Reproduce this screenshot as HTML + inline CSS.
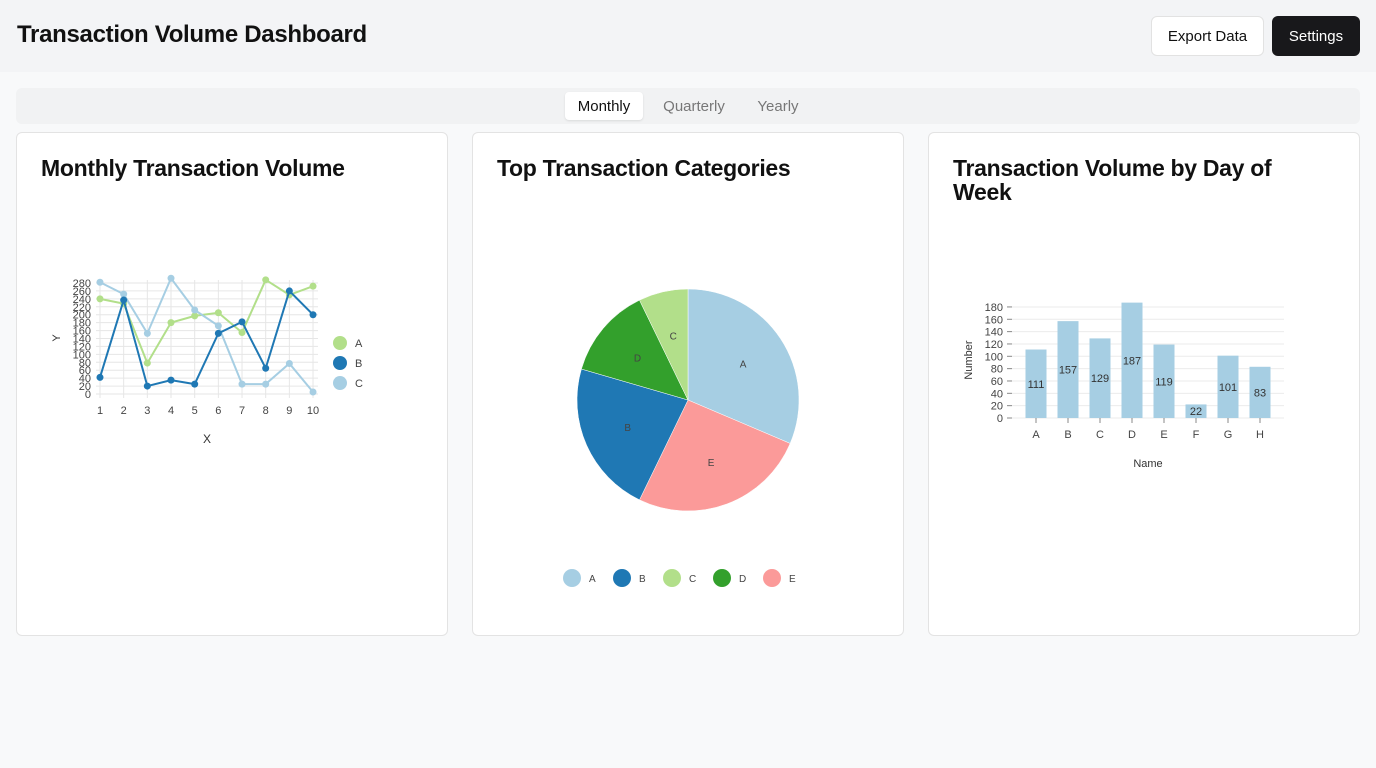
<!DOCTYPE html>
<html><head><meta charset="utf-8"><style>
*{box-sizing:border-box;margin:0;padding:0}
body{width:1376px;height:768px;background:#f8f9fa;font-family:"Liberation Sans",sans-serif;position:relative;overflow:hidden;color:#111}
.hdr{position:absolute;left:0;top:0;width:1376px;height:72px;background:#f3f4f6}
.hdr h1{position:absolute;left:17px;top:21px;font-size:24px;font-weight:bold;letter-spacing:-0.3px}
.btn{position:absolute;top:16px;height:40px;border-radius:6px;font-size:15px;display:flex;align-items:center;justify-content:center}
.tabs{position:absolute;left:16px;top:88px;width:1344px;height:36px;background:#f1f2f3;border-radius:6px}
.tab{position:absolute;top:4px;height:28px;font-size:15px;display:flex;align-items:center;justify-content:center;color:#777;border-radius:4px}
.card{position:absolute;top:132px;width:432px;height:504px;background:#fff;border:1px solid #e3e3e3;border-radius:6px}
.card h2{position:absolute;left:24px;top:23px;font-size:23px;font-weight:bold;line-height:24px;letter-spacing:-0.3px}
svg{position:absolute;left:0;top:0}
svg text{font-family:"Liberation Sans",sans-serif}
</style></head><body>
<div class="hdr">
<h1>Transaction Volume Dashboard</h1>
<div class="btn" style="left:1151px;width:113px;background:#fff;border:1px solid #e2e2e2">Export Data</div>
<div class="btn" style="left:1272px;width:88px;background:#18181b;color:#fff">Settings</div>
</div>
<div class="tabs">
<div class="tab" style="left:549px;width:78px;background:#fff;color:#111;box-shadow:0 1px 2px rgba(0,0,0,.1)">Monthly</div>
<div class="tab" style="left:638px;width:80px">Quarterly</div>
<div class="tab" style="left:732px;width:60px">Yearly</div>
</div>
<div class="card" style="left:16px"><h2>Monthly Transaction Volume</h2></div>
<div class="card" style="left:472px"><h2>Top Transaction Categories</h2></div>
<div class="card" style="left:928px"><h2>Transaction Volume by Day of<br>Week</h2></div>
<svg id="s" width="1376" height="768"></svg>
<script>
const lineX=[1,2,3,4,5,6,7,8,9,10];
const lineA=[240,228,78,180,197,205,155,288,250,272];
const lineB=[42,237,20,35,25,153,182,65,260,200];
const lineC=[282,252,153,292,212,172,25,25,77,5];
const lineTicks=[0,20,40,60,80,100,120,140,160,180,200,220,240,260,280];
const pieLabels=['A','B','C','D','E'];
const pieValues=[31.4,22.3,7.2,13.3,25.8];
const barLabels=['A','B','C','D','E','F','G','H'];
const barValues=[111,157,129,187,119,22,101,83];
const barTicks=[0,20,40,60,80,100,120,140,160,180];

const S=document.getElementById('s'),NS='http://www.w3.org/2000/svg';
function mk(t,a,txt){const e=document.createElementNS(NS,t);for(const k in a)e.setAttribute(k,a[k]);if(txt!==undefined)e.textContent=txt;S.appendChild(e);return e;}

// line chart
const lx=v=>100+(v-1)*23.67, ly=v=>394-v*0.3964;
lineTicks.forEach(t=>{mk('line',{x1:96,x2:318,y1:ly(t),y2:ly(t),stroke:'#e6e6e6'});
 const tl=mk('text',{x:91,y:ly(t)+4,'font-size':11,fill:'#444','text-anchor':'end'},t);
 });
lineX.forEach(v=>{mk('line',{x1:lx(v),x2:lx(v),y1:280,y2:398,stroke:'#e6e6e6'});
 const tl=mk('text',{x:lx(v),y:414,'font-size':11,fill:'#444','text-anchor':'middle'},v);
 });
let yt=mk('text',{x:60,y:338,'font-size':11,fill:'#333','text-anchor':'middle',transform:'rotate(-90 60 338)'},'Y');

let xt=mk('text',{x:207,y:443,'font-size':12,fill:'#333','text-anchor':'middle'},'X');

[[lineA,'#b2df8a','A'],[lineC,'#a6cee3','C'],[lineB,'#1f78b4','B']].forEach(([d,c,n])=>{
 const p=mk('polyline',{points:d.map((v,i)=>lx(lineX[i])+','+ly(v)).join(' '),fill:'none',stroke:c,'stroke-width':2});
 
 d.forEach((v,i)=>{const ci=mk('circle',{cx:lx(lineX[i]),cy:ly(v),r:3.5,fill:c});
  });
});
[['A','#b2df8a'],['B','#1f78b4'],['C','#a6cee3']].forEach(([n,c],i)=>{
 const g=mk('circle',{cx:340,cy:343+i*20,r:7,fill:c});
 mk('text',{x:355,y:347+i*20,'font-size':11,fill:'#444'},n);});

// pie
const pc=['#a6cee3','#1f78b4','#b2df8a','#33a02c','#fb9a99'];
const tot=pieValues.reduce((a,b)=>a+b,0);
const order=pieValues.map((v,i)=>i).sort((a,b)=>pieValues[b]-pieValues[a]);
let ang=0;const cx=688,cy=400,R=111;
order.forEach(i=>{const a0=ang,a1=ang+pieValues[i]/tot*2*Math.PI;ang=a1;
 const x0=cx+R*Math.sin(a0),y0=cy-R*Math.cos(a0),x1=cx+R*Math.sin(a1),y1=cy-R*Math.cos(a1);
 const p=mk('path',{d:`M${cx},${cy}L${x0},${y0}A${R},${R} 0 ${a1-a0>Math.PI?1:0} 1 ${x1},${y1}Z`,fill:pc[i],stroke:'#fff','stroke-width':0.5});
 
 const m=(a0+a1)/2;mk('text',{x:cx+66*Math.sin(m),y:cy-66*Math.cos(m)+4,'font-size':10,fill:'#444','text-anchor':'middle'},pieLabels[i]);});
pieLabels.forEach((n,i)=>{const g=mk('circle',{cx:572+i*50,cy:578,r:9,fill:pc[i]});
 
 mk('text',{x:589+i*50,y:582,'font-size':10,fill:'#444'},n);});

// bar
const bx=i=>1036+i*32, by=v=>418-v*0.617;
barTicks.forEach(t=>{mk('line',{x1:1012,x2:1284,y1:by(t),y2:by(t),stroke:'#ebebeb'});
 mk('line',{x1:1007,x2:1012,y1:by(t),y2:by(t),stroke:'#888'});
 const tl=mk('text',{x:1003,y:by(t)+4,'font-size':11,fill:'#444','text-anchor':'end'},t);
 });
barValues.forEach((v,i)=>{const r=mk('rect',{x:bx(i)-10.5,y:by(v),width:21,height:v*0.617,fill:'#a6cee3'});
 
 mk('text',{x:bx(i),y:by(v/2)+4,'font-size':11,fill:'#333','text-anchor':'middle'},v);
 mk('line',{x1:bx(i),x2:bx(i),y1:418,y2:423,stroke:'#888'});
 mk('text',{x:bx(i),y:438,'font-size':11,fill:'#444','text-anchor':'middle'},barLabels[i]);});
let by2=mk('text',{x:972,y:360,'font-size':11,fill:'#333','text-anchor':'middle',transform:'rotate(-90 972 360)'},'Number');

let bx2=mk('text',{x:1148,y:467,'font-size':11,fill:'#333','text-anchor':'middle'},'Name');

</script>
</body></html>
